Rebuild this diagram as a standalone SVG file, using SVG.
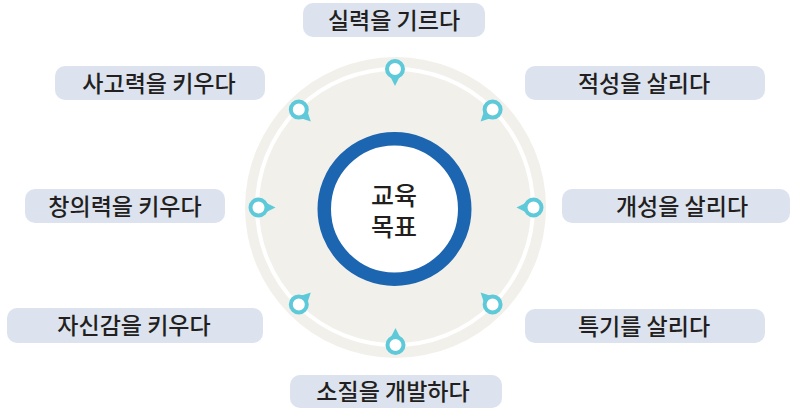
<svg xmlns="http://www.w3.org/2000/svg" width="795" height="411" viewBox="0 0 795 411">
<defs>
<style>
.lbl{fill:#dce3ee}
.t{font-family:"Noto Sans CJK KR","Noto Sans",sans-serif;font-size:23px;font-weight:500;fill:#231f20;text-anchor:middle}
.c{font-family:"Noto Sans CJK KR","Noto Sans",sans-serif;font-size:25px;font-weight:500;fill:#231f20;text-anchor:middle}
</style>
<g id="pin">
<path d="M-5,7 L0,17 L5,7 Z" fill="#5ec9d9"/>
<circle r="8" fill="#fff" stroke="#5ec9d9" stroke-width="4"/>
</g>
</defs>
<rect width="795" height="411" fill="#fff"/>
<g id="hub">
<circle cx="395.5" cy="207.5" r="150.5" fill="#f2f0eb"/>
<circle cx="395" cy="207" r="138" fill="none" stroke="#fff" stroke-width="4"/>
</g>
<g id="connectors">
<use href="#pin" transform="translate(395,69)"/>
<use href="#pin" transform="translate(492.6,109.6) rotate(45)"/>
<use href="#pin" transform="translate(533.5,207.5) rotate(90)"/>
<use href="#pin" transform="translate(492.6,304.4) rotate(135)"/>
<use href="#pin" transform="translate(395.5,345) rotate(180)"/>
<use href="#pin" transform="translate(298.8,304.4) rotate(225)"/>
<use href="#pin" transform="translate(258.5,207.5) rotate(270)"/>
<use href="#pin" transform="translate(298.8,109.6) rotate(315)"/>
</g>
<g id="center">
<circle cx="394.5" cy="209" r="70.25" fill="#fff" stroke="#1c65b0" stroke-width="13.5"/>
<text class="c" x="394" y="205">교육</text>
<text class="c" x="394" y="236">목표</text>
</g>
<g id="n1"><rect class="lbl" x="303" y="3" width="182" height="34" rx="10"/><text class="t" x="394" y="29">실력을 기르다</text></g>
<g id="n2"><rect class="lbl" x="525" y="66" width="240" height="34" rx="10"/><text class="t" x="644" y="92">적성을 살리다</text></g>
<g id="n3"><rect class="lbl" x="562" y="189" width="228" height="34" rx="10"/><text class="t" x="682" y="215">개성을 살리다</text></g>
<g id="n4"><rect class="lbl" x="525" y="309" width="240" height="34" rx="10"/><text class="t" x="644" y="335">특기를 살리다</text></g>
<g id="n5"><rect class="lbl" x="290" y="375" width="212" height="33" rx="10"/><text class="t" x="393" y="400">소질을 개발하다</text></g>
<g id="n6"><rect class="lbl" x="7" y="308" width="256" height="35" rx="10"/><text class="t" x="134" y="334">자신감을 키우다</text></g>
<g id="n7"><rect class="lbl" x="25" y="189" width="200" height="34" rx="10"/><text class="t" x="125" y="215">창의력을 키우다</text></g>
<g id="n8"><rect class="lbl" x="55" y="66" width="210" height="34" rx="10"/><text class="t" x="159" y="92">사고력을 키우다</text></g>
</svg>
